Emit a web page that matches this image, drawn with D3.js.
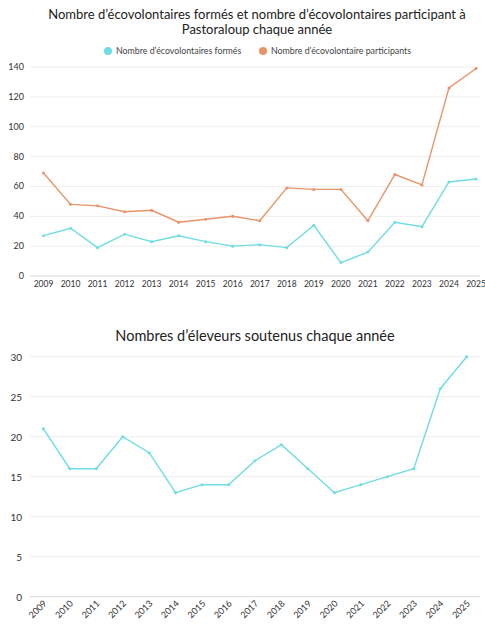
<!DOCTYPE html>
<html><head><meta charset="utf-8">
<script src="https://cdn.jsdelivr.net/npm/d3@7"></script>
<style>body{margin:0;background:#fff}svg{display:block}text{font-family:Lato,"Noto Sans",sans-serif}</style>
</head><body>
<script>
const years = ["2009","2010","2011","2012","2013","2014","2015","2016","2017","2018","2019","2020","2021","2022","2023","2024","2025"];
const formes = [27,32,19,28,23,27,23,20,21,19,34,9,16,36,33,63,65];
const participants = [69,48,47,43,44,36,38,40,37,59,58,58,37,68,61,126,139];
const eleveurs = [21,16,16,20,18,13,14,14,17,19,16,13,14,15,16,26,30];
const ticks1 = [0,20,40,60,80,100,120,140];
const ticks2 = [0,5,10,15,20,25,30];
const title1 = ["Nombre d’écovolontaires formés et nombre d’écovolontaires participant à","Pastoraloup chaque année"];
const title2 = "Nombres d’éleveurs soutenus chaque année";
const legendLabels = ["Nombre d’écovolontaires formés","Nombre d’écovolontaire participants"];
const cyan = "#6fdde3", orange = "#e8936a";

const svg = d3.select("body").append("svg").attr("width",485).attr("height",625);

// Chart 1
svg.append("text").attr("x",257).attr("y",19).attr("text-anchor","middle").attr("font-size",13).attr("fill","#222").text(title1[0]);
svg.append("text").attr("x",257).attr("y",34).attr("text-anchor","middle").attr("font-size",13).attr("fill","#222").text(title1[1]);
const leg = [{x:108,c:cyan,t:legendLabels[0]},{x:263,c:orange,t:legendLabels[1]}];
leg.forEach(l=>{
  svg.append("circle").attr("cx",l.x).attr("cy",51).attr("r",4).attr("fill",l.c);
  svg.append("text").attr("x",l.x+8).attr("y",54).attr("font-size",8.8).attr("fill","#444").text(l.t);
});
const x1 = d3.scalePoint().domain(years).range([43.5,476]);
const y1 = d3.scaleLinear().domain([0,140]).range([276,67]);
const g1 = svg.append("g");
g1.selectAll("line.grid").data(ticks1.filter(d=>d>0)).join("line").attr("x1",30).attr("x2",480)
  .attr("y1",d=>y1(d)).attr("y2",d=>y1(d)).attr("stroke","#eeeeee").attr("stroke-width",1);
g1.append("line").attr("x1",30).attr("x2",480).attr("y1",y1(0)).attr("y2",y1(0)).attr("stroke","#d8d8d8");
g1.selectAll("text.yt").data(ticks1).join("text").attr("x",24).attr("y",d=>y1(d)+3).attr("text-anchor","end")
  .attr("font-size",9).attr("fill","#333").text(d=>d);
g1.selectAll("text.xt").data(years).join("text").attr("x",d=>x1(d)).attr("y",287).attr("text-anchor","middle")
  .attr("font-size",8.5).attr("fill","#333").text(d=>d);
[[participants,orange],[formes,cyan]].forEach(([data,c])=>{
  g1.append("path").datum(data).attr("fill","none").attr("stroke",c).attr("stroke-width",1.4)
    .attr("d",d3.line().x((d,i)=>x1(years[i])).y(d=>y1(d)));
  g1.selectAll(null).data(data).join("circle").attr("cx",(d,i)=>x1(years[i])).attr("cy",d=>y1(d)).attr("r",1.5).attr("fill",c);
});

// Chart 2
svg.append("text").attr("x",255).attr("y",341).attr("text-anchor","middle").attr("font-size",14.5).attr("fill","#222").text(title2);
const x2 = d3.scalePoint().domain(years).range([43.3,466.7]);
const y2 = d3.scaleLinear().domain([0,30]).range([596.7,356.7]);
const g2 = svg.append("g");
g2.selectAll("line.grid").data(ticks2.filter(d=>d>0)).join("line").attr("x1",30).attr("x2",480)
  .attr("y1",d=>y2(d)).attr("y2",d=>y2(d)).attr("stroke","#eeeeee").attr("stroke-width",1);
g2.append("line").attr("x1",30).attr("x2",480).attr("y1",y2(0)).attr("y2",y2(0)).attr("stroke","#d8d8d8");
g2.selectAll("text.yt").data(ticks2).join("text").attr("x",22).attr("y",d=>y2(d)+4).attr("text-anchor","end")
  .attr("font-size",10).attr("fill","#333").text(d=>d);
g2.selectAll("text.xt").data(years).join("text")
  .attr("transform",d=>`translate(${x2(d)+4},${604}) rotate(-45)`).attr("text-anchor","end")
  .attr("font-size",9).attr("fill","#333").text(d=>d);
g2.append("path").datum(eleveurs).attr("fill","none").attr("stroke",cyan).attr("stroke-width",1.4)
  .attr("d",d3.line().x((d,i)=>x2(years[i])).y(d=>y2(d)));
g2.selectAll(null).data(eleveurs).join("circle").attr("cx",(d,i)=>x2(years[i])).attr("cy",d=>y2(d)).attr("r",1.5).attr("fill",cyan);
</script>
</body></html>
